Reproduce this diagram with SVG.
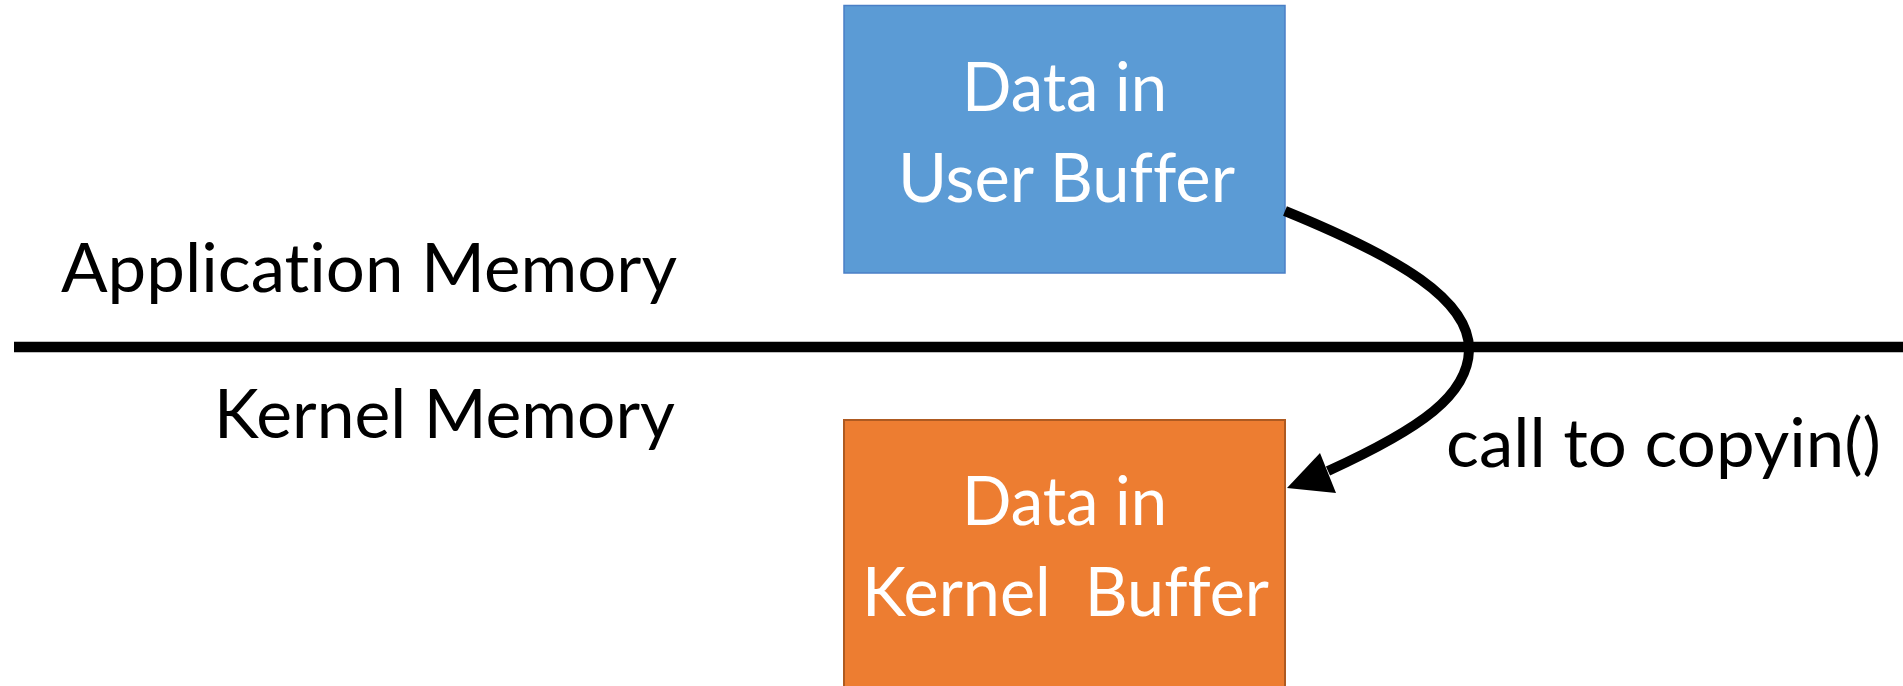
<svg xmlns="http://www.w3.org/2000/svg" width="1903" height="686" viewBox="0 0 1903 686">
<style>
.lbl{font-family:Lato,"Open Sans","Liberation Sans",sans-serif;font-size:68px;fill:#000;white-space:pre;font-variant-ligatures:none}
.in{font-family:Lato,"Open Sans","Liberation Sans",sans-serif;font-size:68px;fill:#fff;white-space:pre;font-variant-ligatures:none}
.user{fill:#5B9BD5;stroke:#4A7FC6;stroke-width:1.5}
.kern{fill:#ED7D31;stroke:#AE5A21;stroke-width:2}
.conn{fill:none;stroke:#000;stroke-width:10}
</style>
<rect width="1903" height="686" fill="#fff"/>
<g id="divider">
<line x1="14" y1="347" x2="1903" y2="347" stroke="#000" stroke-width="10.5"/>
</g>
<g id="label-app">
<text class="lbl" x="61" y="292" textLength="616" lengthAdjust="spacingAndGlyphs">Application Memory</text>
</g>
<g id="label-kernel">
<text class="lbl" x="214" y="438" textLength="461" lengthAdjust="spacingAndGlyphs">Kernel Memory</text>
</g>
<g id="user-buffer">
<rect class="user" x="844" y="5.5" width="441" height="267.5"/>
<text class="in" x="962" y="111" textLength="205" lengthAdjust="spacingAndGlyphs">Data in</text>
<text class="in" x="898" y="202" textLength="337" lengthAdjust="spacingAndGlyphs">User Buffer</text>
</g>
<g id="kernel-buffer">
<rect class="kern" x="844" y="420" width="441" height="280"/>
<text class="in" x="962" y="525" textLength="205" lengthAdjust="spacingAndGlyphs">Data in</text>
<text class="in" x="862" y="616" textLength="407" lengthAdjust="spacingAndGlyphs">Kernel  Buffer</text>
</g>
<g id="connectors">
<path class="conn" d="M1285,211 C1400,258 1470,300 1469,350 C1468,395 1422,428 1328,471"/>
<polygon points="1287,488 1320,453 1336,493" fill="#000"/>
<text class="lbl" x="1446" y="467" textLength="435" lengthAdjust="spacingAndGlyphs">call to copyin()</text>
</g>
</svg>
